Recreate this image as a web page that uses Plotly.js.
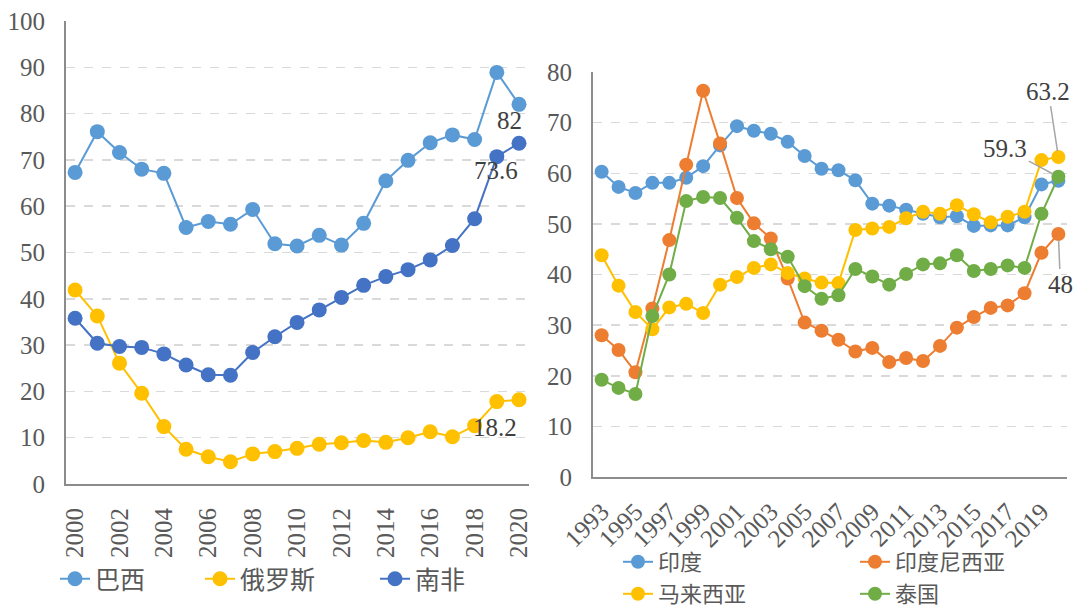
<!DOCTYPE html>
<html>
<head>
<meta charset="utf-8">
<script src="https://cdn.plot.ly/plotly-3.0.1.min.js"></script>
<style>html,body{margin:0;padding:0;background:#fff;}#chart{width:1078px;height:610px;}</style>
</head>
<body>
<div id="chart"></div>
<script>
// Left panel data
var years1 = [2000,2001,2002,2003,2004,2005,2006,2007,2008,2009,2010,2011,2012,2013,2014,2015,2016,2017,2018,2019,2020];
var brazil = [67.3,76.1,71.6,68.0,67.1,55.4,56.7,56.1,59.3,51.9,51.4,53.7,51.6,56.3,65.5,69.9,73.7,75.4,74.4,88.9,82.0];
var russia = [41.9,36.3,26.1,19.6,12.4,7.5,5.9,4.8,6.5,7.0,7.7,8.6,8.9,9.4,9.0,10.0,11.3,10.2,12.6,17.8,18.2];
var southAfrica = [35.8,30.4,29.7,29.5,28.1,25.7,23.6,23.5,28.4,31.8,34.9,37.6,40.3,42.9,44.8,46.3,48.4,51.5,57.3,70.7,73.6];
var leftTicks = [2000,2002,2004,2006,2008,2010,2012,2014,2016,2018,2020];
var leftYTicks = [0,10,20,30,40,50,60,70,80,90,100];

// Right panel data
var years2 = [1993,1994,1995,1996,1997,1998,1999,2000,2001,2002,2003,2004,2005,2006,2007,2008,2009,2010,2011,2012,2013,2014,2015,2016,2017,2018,2019,2020];
var india = [60.3,57.3,56.1,58.1,58.1,59.1,61.4,65.5,69.3,68.4,67.8,66.2,63.4,60.9,60.6,58.6,54.0,53.6,52.8,52.0,51.3,51.5,49.6,49.7,49.7,51.3,57.8,58.5];
var indonesia = [28.0,25.1,20.7,33.3,46.8,61.7,76.3,65.9,55.1,50.1,47.1,39.2,30.5,28.9,27.1,24.8,25.5,22.7,23.5,22.9,25.9,29.5,31.6,33.4,33.9,36.3,44.3,48.0];
var malaysia = [43.8,37.8,32.6,29.2,33.5,34.2,32.4,38.0,39.5,41.3,42.0,40.3,39.2,38.4,38.3,48.8,49.1,49.4,51.1,52.4,52.0,53.7,51.9,50.3,51.4,52.4,62.6,63.2];
var thailand = [19.2,17.6,16.4,31.8,40.0,54.5,55.3,55.1,51.2,46.6,45.0,43.5,37.7,35.2,35.9,41.1,39.6,38.0,40.1,42.0,42.2,43.8,40.7,41.1,41.8,41.3,52.0,59.3];
var rightTicks = [1993,1995,1997,1999,2001,2003,2005,2007,2009,2011,2013,2015,2017,2019];
var rightYTicks = [0,10,20,30,40,50,60,70,80];

var names1 = ['巴西','俄罗斯','南非'];
var names2 = ['印度','印度尼西亚','马来西亚','泰国'];

var C = {lblue:'#5B9BD5', yellow:'#FFC000', dblue:'#4472C4', orange:'#ED7D31', green:'#70AD47'};
var numFont = 'Liberation Serif, Times New Roman, serif';
var cjkFont = 'Noto Sans CJK SC, sans-serif';

function tr(x, y, name, color, xa, ya, leg, size) {
  return {
    x: x, y: y, name: name, type: 'scatter', mode: 'lines+markers',
    xaxis: xa, yaxis: ya, legend: leg,
    line: {color: color, width: 2},
    marker: {color: color, size: size},
    hoverinfo: 'x+y'
  };
}

var data = [
  tr(years1, brazil, names1[0], C.lblue, 'x', 'y', 'legend', 15),
  tr(years1, russia, names1[1], C.yellow, 'x', 'y', 'legend2', 15),
  tr(years1, southAfrica, names1[2], C.dblue, 'x', 'y', 'legend3', 15),
  tr(years2, india, names2[0], C.lblue, 'x2', 'y2', 'legend4', 14),
  tr(years2, indonesia, names2[1], C.orange, 'x2', 'y2', 'legend5', 14),
  tr(years2, malaysia, names2[2], C.yellow, 'x2', 'y2', 'legend6', 14),
  tr(years2, thailand, names2[3], C.green, 'x2', 'y2', 'legend7', 14)
];

var tickFont = {family: numFont, size: 25, color: '#595959'};
var gridStyle = {showgrid: true, gridcolor: '#d9d9d9', griddash: 'dash', gridwidth: 1.5};

function yax(domain, range, ticks, anchor) {
  return Object.assign({
    domain: domain, range: range, tickvals: ticks, ticktext: ticks.map(String),
    showline: true, linecolor: '#8c8c8c', linewidth: 2, zeroline: false,
    ticks: '', tickfont: tickFont, ticklabelstandoff: 14, anchor: anchor, fixedrange: true,
    automargin: false
  }, gridStyle);
}

function leg(px, py, fs) {
  return {
    orientation: 'h', x: px/1078, y: (610-py)/610, xanchor: 'left', yanchor: 'middle',
    font: {family: cjkFont, size: fs, color: '#595959'},
    bgcolor: 'rgba(0,0,0,0)', itemclick: false, borderwidth: 0
  };
}

var annFont = {family: numFont, size: 25, color: '#404040'};

var layout = {
  width: 1078, height: 610,
  margin: {l: 0, r: 0, t: 0, b: 0, autoexpand: false},
  paper_bgcolor: '#fff', plot_bgcolor: 'rgba(0,0,0,0)',
  showlegend: true,
  xaxis: {
    domain: [66/1078, 529/1078], range: [1999.59, 2020.45],
    tickvals: leftTicks, ticktext: leftTicks.map(String), tickangle: -90,
    showline: true, linecolor: '#8c8c8c', linewidth: 2, showgrid: false, zeroline: false,
    ticks: '', tickfont: tickFont, ticklabelstandoff: 12, anchor: 'y', fixedrange: true, automargin: false
  },
  yaxis: yax([(610-484)/610, (610-21)/610], [0, 100], leftYTicks, 'x'),
  xaxis2: {
    domain: [593/1078, 1067/1078], range: [1992.49, 2020.51],
    tickvals: rightTicks, ticktext: rightTicks.map(String), tickangle: -45,
    showline: true, linecolor: '#8c8c8c', linewidth: 2, showgrid: false, zeroline: false,
    ticks: '', tickfont: tickFont, ticklabelstandoff: 8, anchor: 'y2', fixedrange: true, automargin: false
  },
  yaxis2: yax([(610-477)/610, (610-72)/610], [0, 80], rightYTicks, 'x2'),
  legend: leg(55, 579, 25),
  legend2: leg(200, 579, 25),
  legend3: leg(375, 579, 25),
  legend4: leg(618, 562, 22),
  legend5: leg(855, 562, 22),
  legend6: leg(618, 594, 22),
  legend7: leg(855, 594, 22),
  annotations: [
    {xref: 'x', yref: 'y', x: years1[20], y: brazil[20], text: String(brazil[20]), showarrow: false, xshift: -10, yshift: -16, font: annFont},
    {xref: 'x', yref: 'y', x: years1[20], y: southAfrica[20], text: String(southAfrica[20]), showarrow: false, xshift: -23, yshift: -27, font: annFont},
    {xref: 'x', yref: 'y', x: years1[20], y: russia[20], text: String(russia[20]), showarrow: false, xshift: -24, yshift: -28, font: annFont},
    {xref: 'x2', yref: 'y2', x: years2[27], y: malaysia[27], text: String(malaysia[27]), showarrow: true, arrowhead: 0, arrowwidth: 1.5, arrowcolor: '#a6a6a6', ax: -10, ay: -66, standoff: 6, font: annFont},
    {xref: 'x2', yref: 'y2', x: years2[27], y: thailand[27], text: String(thailand[27]), showarrow: true, arrowhead: 0, arrowwidth: 1.5, arrowcolor: '#a6a6a6', ax: -53, ay: -28, standoff: 6, font: annFont},
    {xref: 'x2', yref: 'y2', x: years2[27], y: indonesia[27], text: String(indonesia[27]), showarrow: true, arrowhead: 0, arrowwidth: 1.5, arrowcolor: '#a6a6a6', ax: 2, ay: 50, standoff: 6, font: annFont}
  ]
};

Plotly.newPlot('chart', data, layout, {displayModeBar: false, staticPlot: true});
</script>
</body>
</html>
